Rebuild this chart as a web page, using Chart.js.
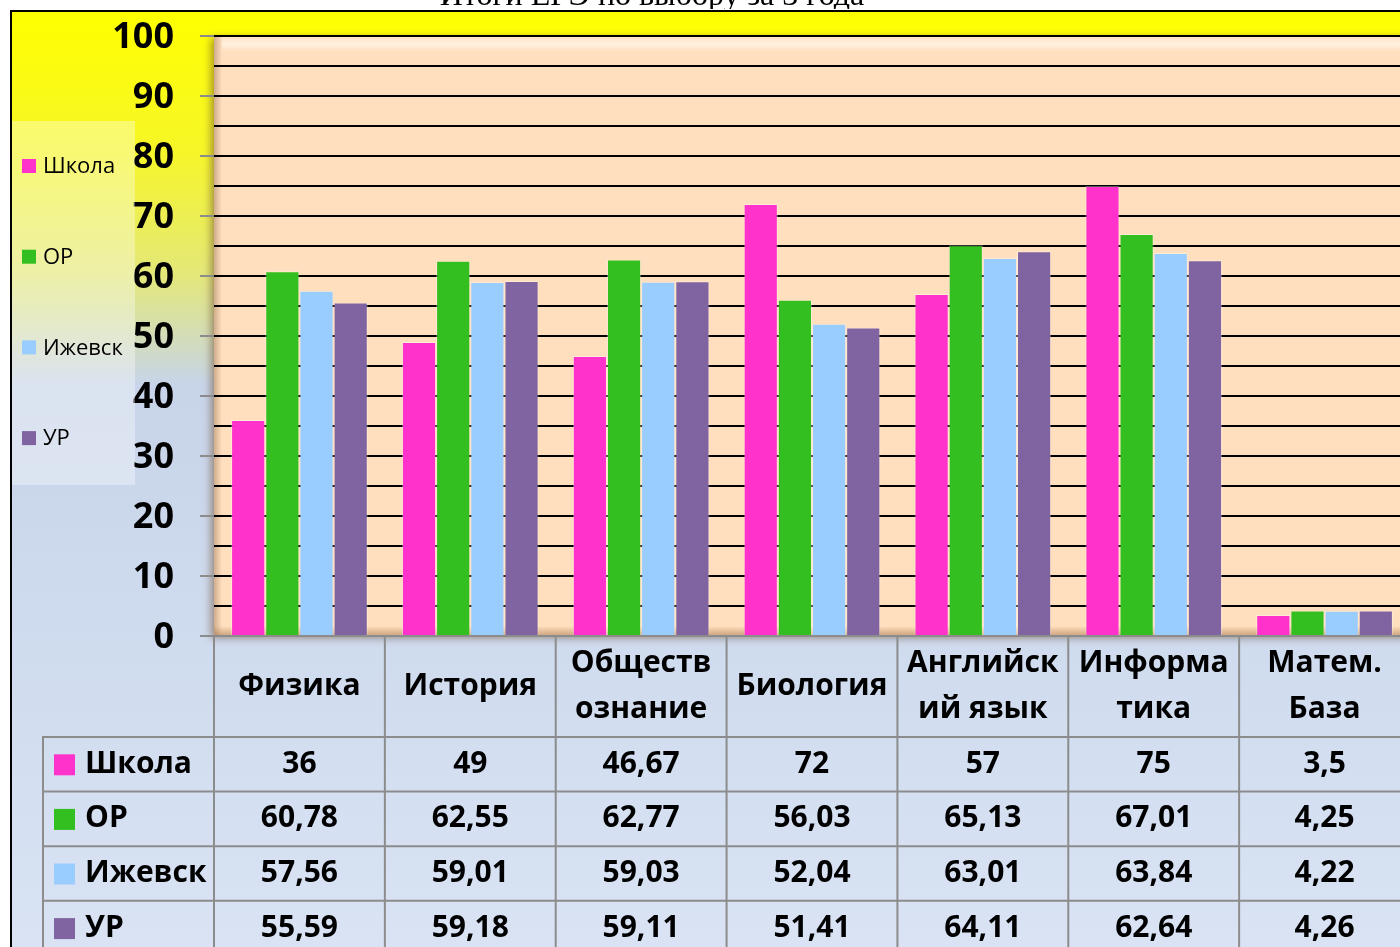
<!DOCTYPE html>
<html>
<head>
<meta charset="utf-8">
<script src="https://cdn.jsdelivr.net/npm/chart.js@4.4.0/dist/chart.umd.min.js"></script>
<style>
    html, body { margin: 0; padding: 0; background: #fff; overflow: hidden; }
    #wrap { position: relative; width: 1410px; height: 947px; }
</style>
</head>
<body>
<div id="wrap"><canvas id="chart"></canvas></div>
<script>
const title = 'Итоги ЕГЭ по выбору за 3 года';
const subjects = ['Физика', 'История', ['Обществ', 'ознание'], 'Биология', ['Английск', 'ий язык'], ['Информа', 'тика'], ['Матем.', 'База']];
const seriesNames = ['Школа', 'ОР', 'Ижевск', 'УР'];
const school  = [36, 49, 46.67, 72, 57, 75, 3.5];
const region  = [60.78, 62.55, 62.77, 56.03, 65.13, 67.01, 4.25];
const izhevsk = [57.56, 59.01, 59.03, 52.04, 63.01, 63.84, 4.22];
const ur      = [55.59, 59.18, 59.11, 51.41, 64.11, 62.64, 4.26];
const seriesColors = ['#ff33cc', '#33bf1f', '#99ccff', '#8064a2'];
const yMin = 0, yMax = 100, yStep = 5, yLabelStep = 10;

const FONT = "'Open Sans', Lato, sans-serif";
const lineGray = '#8c8c8c';
const fmt = v => String(v).replace('.', ',');

// background, frame, clipped title and the plot wall
const backdrop = {
    id: 'backdrop',
    beforeDraw(chart) {
        const { ctx, width, height, chartArea: a } = chart;
        ctx.save();
        ctx.fillStyle = '#fff';
        ctx.fillRect(0, 0, width, height);

        const g = ctx.createLinearGradient(0, 10, 0, height);
        g.addColorStop(0, '#ffff00');
        g.addColorStop(0.15, '#f6f628');
        g.addColorStop(0.28, '#e4e877');
        g.addColorStop(0.40, '#c7d4e9');
        g.addColorStop(1, '#d9e3f4');
        ctx.fillStyle = g;
        ctx.fillRect(10, 10, width - 10, height - 10);

        ctx.strokeStyle = '#000';
        ctx.lineWidth = 2;
        ctx.beginPath();
        ctx.moveTo(11, height);
        ctx.lineTo(11, 11);
        ctx.lineTo(width, 11);
        ctx.stroke();

        ctx.save();
        ctx.beginPath();
        ctx.rect(0, 0, width, 9);
        ctx.clip();
        ctx.fillStyle = '#000';
        ctx.font = "32px 'Liberation Serif', serif";
        ctx.textAlign = 'center';
        ctx.textBaseline = 'alphabetic';
        ctx.fillText(title, 652, 5);
        ctx.restore();

        ctx.shadowColor = 'rgba(110, 80, 50, 0.6)';
        ctx.shadowBlur = 8;
        ctx.shadowOffsetX = -3;
        ctx.shadowOffsetY = 2;
        ctx.fillStyle = '#ffdfbd';
        ctx.fillRect(a.left, a.top, a.right - a.left, a.bottom - a.top);
        ctx.shadowColor = 'transparent';

        const hl = ctx.createLinearGradient(0, a.top, 0, a.top + 16);
        hl.addColorStop(0, 'rgba(255,255,255,0.1)');
        hl.addColorStop(0.5, 'rgba(255,255,255,0.55)');
        hl.addColorStop(1, 'rgba(255,255,255,0)');
        ctx.fillStyle = hl;
        ctx.fillRect(a.left + 8, a.top, a.right - a.left, 16);

        const sh = ctx.createLinearGradient(a.left, 0, a.left + 8, 0);
        sh.addColorStop(0, 'rgba(150,110,80,0.45)');
        sh.addColorStop(1, 'rgba(150,110,80,0)');
        ctx.fillStyle = sh;
        ctx.fillRect(a.left, a.top, 8, a.bottom - a.top);

        const fl = ctx.createLinearGradient(0, a.bottom - 10, 0, a.bottom);
        fl.addColorStop(0, 'rgba(160,110,70,0)');
        fl.addColorStop(1, 'rgba(160,110,70,0.55)');
        ctx.fillStyle = fl;
        ctx.fillRect(a.left, a.bottom - 10, a.right - a.left, 10);
        ctx.restore();
    }
};

// legend box on the left and the data table under the plot
const legendAndTable = {
    id: 'legendAndTable',
    afterDraw(chart) {
        const { ctx, width, height, chartArea: a } = chart;
        const xs = chart.scales.x;
        const sets = chart.data.datasets;
        ctx.save();

        // legend
        ctx.fillStyle = 'rgba(255,255,255,0.35)';
        ctx.fillRect(12, 121, 123, 364);
        ctx.font = `22px ${FONT}`;
        ctx.textBaseline = 'middle';
        ctx.textAlign = 'left';
        sets.forEach((ds, i) => {
            const y = 166 + i * 90.7;
            ctx.fillStyle = ds.backgroundColor;
            ctx.fillRect(22, y - 7, 14, 14);
            ctx.fillStyle = '#000';
            ctx.fillText(ds.label, 43, y + 1);
        });

        // table grid
        const step = xs.getPixelForValue(1) - xs.getPixelForValue(0);
        const edges = chart.data.labels.map((_, i) => xs.getPixelForValue(i) - step / 2);
        edges.push(xs.getPixelForValue(chart.data.labels.length - 1) + step / 2);
        const rowTop = 737, rowH = 54.6;

        ctx.strokeStyle = lineGray;
        ctx.lineWidth = 2;
        ctx.beginPath();
        edges.forEach(x => { ctx.moveTo(x, a.bottom); ctx.lineTo(x, height); });
        ctx.moveTo(43, rowTop);
        ctx.lineTo(43, height);
        sets.forEach((_, i) => {
            const y = rowTop + i * rowH;
            ctx.moveTo(42, y);
            ctx.lineTo(width, y);
        });
        ctx.stroke();

        // category header
        ctx.fillStyle = '#000';
        ctx.textAlign = 'center';
        ctx.font = `bold 30px ${FONT}`;
        const headMid = (a.bottom + rowTop) / 2;
        chart.data.labels.forEach((lab, i) => {
            const x = xs.getPixelForValue(i);
            const lines = Array.isArray(lab) ? lab : [lab];
            lines.forEach((t, k) => {
                ctx.fillText(t, x, headMid + (k - (lines.length - 1) / 2) * 46);
            });
        });

        // rows
        sets.forEach((ds, r) => {
            const yc = rowTop + r * rowH + rowH / 2;
            ctx.fillStyle = ds.backgroundColor;
            ctx.fillRect(54, yc - 10, 21, 21);
            ctx.fillStyle = '#000';
            ctx.textAlign = 'left';
            ctx.fillText(ds.label, 85, yc);
            ctx.textAlign = 'center';
            ds.data.forEach((v, i) => ctx.fillText(fmt(v), xs.getPixelForValue(i), yc));
        });
        ctx.restore();
    }
};

const seriesValues = [school, region, izhevsk, ur];

new Chart(document.getElementById('chart'), {
    type: 'bar',
    data: {
        labels: subjects,
        datasets: seriesNames.map((name, i) => ({
            label: name,
            data: seriesValues[i],
            backgroundColor: seriesColors[i],
            borderColor: 'rgba(255,255,255,0.35)',
            borderWidth: 1,
            categoryPercentage: 0.8,
            barPercentage: 1.0
        }))
    },
    options: {
        responsive: true,
        maintainAspectRatio: false,
        devicePixelRatio: 1,
        animation: false,
        layout: { padding: { top: 36, bottom: 311, left: 0, right: 0 } },
        plugins: {
            legend: { display: false },
            tooltip: { enabled: false },
            title: { display: false }
        },
        scales: {
            x: { display: false },
            y: {
                min: yMin,
                max: yMax,
                afterFit: scale => {
                    scale.width = 214;
                    scale.paddingTop = 0;
                    scale.paddingBottom = 0;
                },
                border: { display: false },
                grid: {
                    color: c => c.tick && c.tick.value === 0 ? lineGray : '#000',
                    lineWidth: 2,
                    tickLength: 14,
                    tickColor: c => c.tick && c.tick.value % yLabelStep === 0 ? lineGray : 'rgba(0,0,0,0)',
                    tickWidth: 2
                },
                ticks: {
                    stepSize: yStep,
                    maxTicksLimit: 30,
                    autoSkip: false,
                    padding: 26,
                    labelOffset: 2,
                    color: '#000',
                    font: { family: FONT, size: 36, weight: 'bold' },
                    callback: v => v % yLabelStep === 0 ? v : ''
                }
            }
        }
    },
    plugins: [backdrop, legendAndTable]
});
</script>
</body>
</html>
